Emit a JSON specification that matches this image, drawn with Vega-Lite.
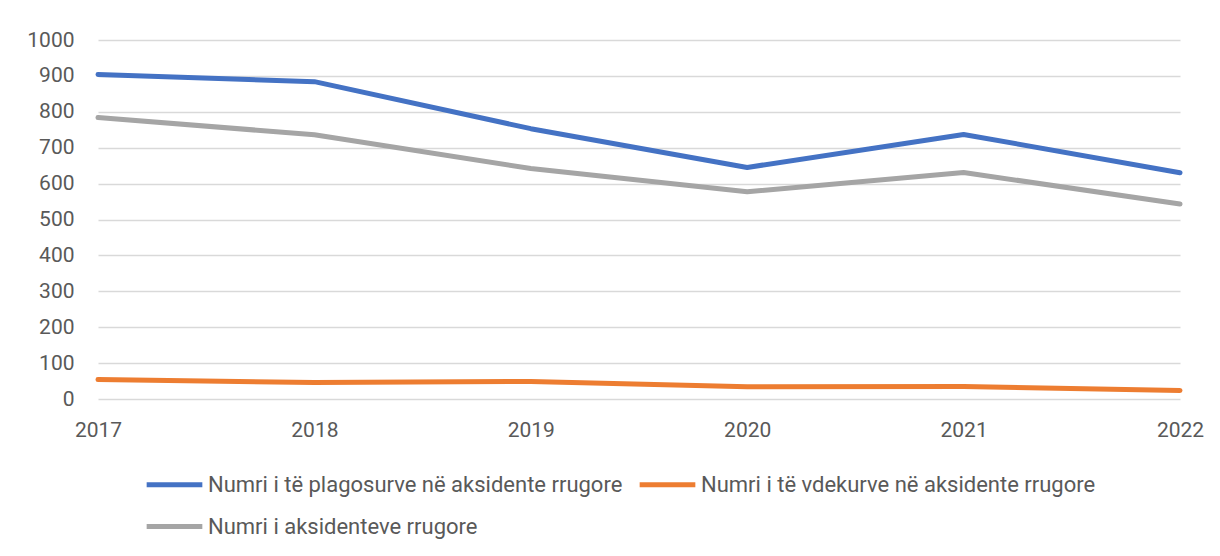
{
  "$schema": "https://vega.github.io/schema/vega-lite/v6.json",
  "autosize": "none",
  "width": 1082,
  "height": 359,
  "padding": {"left": 98, "top": 40, "right": 40, "bottom": 157},
  "background": "white",
  "config": {
    "view": {"stroke": null},
    "font": "Roboto"
  },
  "data": {
    "values": [
      {"year": "2017", "series": "Numri i të plagosurve në aksidente rrugore", "value": 904},
      {"year": "2018", "series": "Numri i të plagosurve në aksidente rrugore", "value": 884},
      {"year": "2019", "series": "Numri i të plagosurve në aksidente rrugore", "value": 753},
      {"year": "2020", "series": "Numri i të plagosurve në aksidente rrugore", "value": 645},
      {"year": "2021", "series": "Numri i të plagosurve në aksidente rrugore", "value": 737},
      {"year": "2022", "series": "Numri i të plagosurve në aksidente rrugore", "value": 630},
      {"year": "2017", "series": "Numri i të vdekurve në aksidente rrugore", "value": 54},
      {"year": "2018", "series": "Numri i të vdekurve në aksidente rrugore", "value": 46},
      {"year": "2019", "series": "Numri i të vdekurve në aksidente rrugore", "value": 49},
      {"year": "2020", "series": "Numri i të vdekurve në aksidente rrugore", "value": 34},
      {"year": "2021", "series": "Numri i të vdekurve në aksidente rrugore", "value": 35},
      {"year": "2022", "series": "Numri i të vdekurve në aksidente rrugore", "value": 24},
      {"year": "2017", "series": "Numri i aksidenteve rrugore", "value": 784},
      {"year": "2018", "series": "Numri i aksidenteve rrugore", "value": 736},
      {"year": "2019", "series": "Numri i aksidenteve rrugore", "value": 642},
      {"year": "2020", "series": "Numri i aksidenteve rrugore", "value": 577},
      {"year": "2021", "series": "Numri i aksidenteve rrugore", "value": 631},
      {"year": "2022", "series": "Numri i aksidenteve rrugore", "value": 543}
    ]
  },
  "mark": {"type": "line", "strokeWidth": 5, "strokeCap": "round", "strokeJoin": "round"},
  "encoding": {
    "x": {
      "field": "year",
      "type": "ordinal",
      "scale": {"type": "point", "padding": 0},
      "axis": {
        "title": null,
        "labelAngle": 0,
        "domain": false,
        "ticks": false,
        "grid": false,
        "labelFontSize": 21,
        "labelColor": "#595959",
        "labelPadding": 20
      }
    },
    "y": {
      "field": "value",
      "type": "quantitative",
      "scale": {"domain": [0, 1000], "nice": false},
      "axis": {
        "title": null,
        "format": "d",
        "values": [0, 100, 200, 300, 400, 500, 600, 700, 800, 900, 1000],
        "domain": false,
        "ticks": false,
        "gridColor": "#d9d9d9",
        "gridWidth": 1.5,
        "labelFontSize": 21,
        "labelColor": "#595959",
        "labelPadding": 24
      }
    },
    "color": {
      "field": "series",
      "type": "nominal",
      "sort": ["Numri i të plagosurve në aksidente rrugore", "Numri i të vdekurve në aksidente rrugore", "Numri i aksidenteve rrugore"],
      "scale": {
        "domain": ["Numri i të plagosurve në aksidente rrugore", "Numri i të vdekurve në aksidente rrugore", "Numri i aksidenteve rrugore"],
        "range": ["#4472C4", "#ED7D31", "#A5A5A5"]
      },
      "legend": {
        "title": null,
        "orient": "none",
        "legendX": 46,
        "legendY": 414,
        "direction": "horizontal",
        "columns": 2,
        "symbolType": "stroke",
        "symbolSize": 3100,
        "symbolStrokeWidth": 5,
        "labelFontSize": 22,
        "labelColor": "#595959",
        "labelOffset": 3,
        "columnPadding": 6,
        "rowPadding": -17,
        "labelLimit": 600
      }
    }
  }
}
